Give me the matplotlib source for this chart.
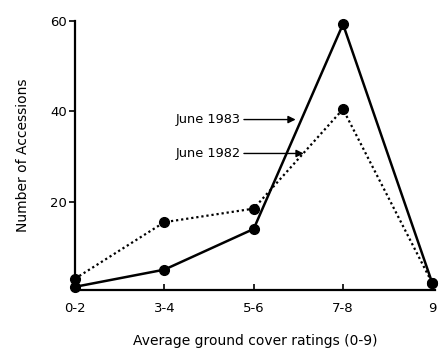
import matplotlib
matplotlib.use("Agg")
import matplotlib.pyplot as plt

categories = ["0-2", "3-4", "5-6", "7-8", "9"]
june_1983 = [1.2, 5, 14, 59.3, 2]
june_1982 = [3, 15.5, 18.5, 40.5, 2]
yticks = [20, 40, 60]

plt.rcParams['font.family'] = ['DejaVu Sans']
fig = plt.figure(figsize=(4.42, 3.52), dpi=100)
ax = fig.add_axes([75/442, 1-290/352, 360/442, 269/352])
x = list(range(len(categories)))
ax.plot(x, june_1983, color='black', lw=1.8, marker='o', ms=7, clip_on=False, zorder=3)
ax.plot(x, june_1982, color='black', lw=1.6, ls=(0, (1, 1.3)), marker='o', ms=7, clip_on=False, zorder=3)
ax.set_xlim(0, 4.03)
ax.set_ylim(0.5, 60)
ax.set_xticks(x)
ax.set_xticklabels(categories, fontsize=9.5)
ax.set_yticks(yticks)
ax.set_yticklabels([str(v) for v in yticks], fontsize=9.5)
ax.tick_params(axis='x', direction='in', length=4, width=1.2, pad=9)
ax.tick_params(axis='y', direction='out', length=4, width=1.2, pad=2)
for s in ['top', 'right']:
    ax.spines[s].set_visible(False)
for s in ['left', 'bottom']:
    ax.spines[s].set_linewidth(1.6)
ax.set_xlabel("Average ground cover ratings (0-9)", fontsize=10, labelpad=13)
ax.set_ylabel("Number of Accessions", fontsize=10, labelpad=14)

ax.annotate("June 1983", xy=(2.47, 38.2), xytext=(1.86, 38.2), fontsize=9.3,
            va='center', ha='right',
            arrowprops=dict(arrowstyle='-|>', color='black', lw=1.0, mutation_scale=11, shrinkA=0, shrinkB=0))
ax.annotate("June 1982", xy=(2.56, 30.7), xytext=(1.86, 30.7), fontsize=9.3,
            va='center', ha='right',
            arrowprops=dict(arrowstyle='-|>', color='black', lw=1.0, mutation_scale=11, shrinkA=0, shrinkB=0))

fig.savefig("out.png", dpi=100)
